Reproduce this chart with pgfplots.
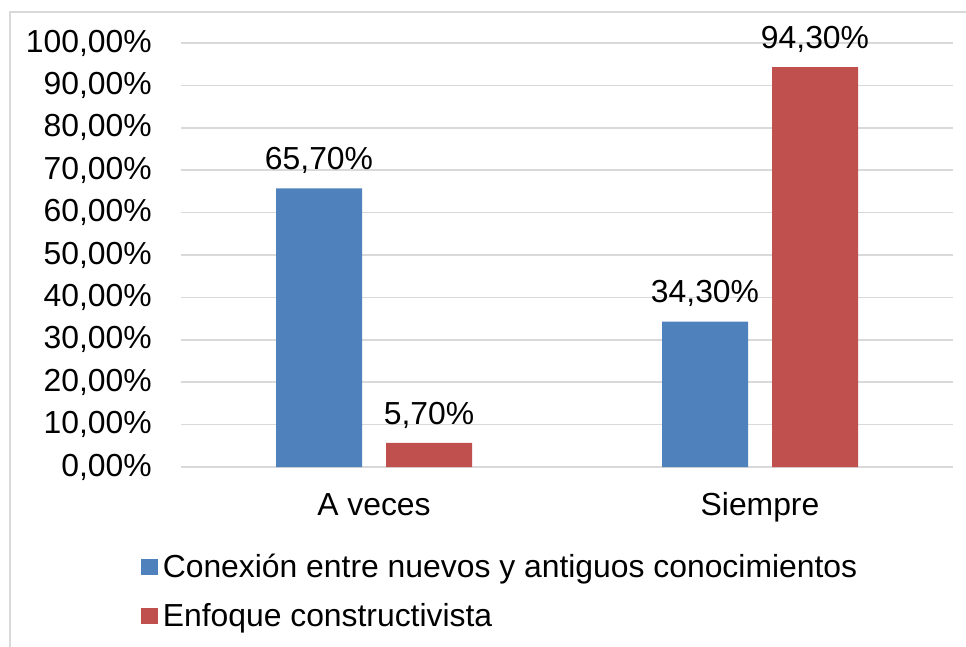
\documentclass[border=0pt]{standalone}
\usepackage{pgfplots}
\pgfplotsset{compat=1.18}
\usepackage{fontspec}
\setmainfont{Liberation Sans}
\definecolor{cblue}{HTML}{4F81BD}
\definecolor{cred}{HTML}{C0504D}
\definecolor{cgrid}{HTML}{D9D9D9}
\newcommand{\bigf}{\fontsize{23.9}{28}\selectfont}
\begin{document}
\begin{tikzpicture}
\useasboundingbox (0pt,0pt) rectangle (724.5pt,484.5pt);
\draw[cgrid,line width=1.2pt] (7.5pt,475.5pt) rectangle (750pt,-15pt);
\begin{axis}[
  at={(135.75pt,134.25pt)}, anchor=south west,
  scale only axis, width=579pt, height=318pt,
  ymin=0, ymax=100, xmin=-0.5, xmax=1.5,
  xtick={0,1}, xticklabels={A veces,Siempre},
  ytick={0,10,...,100},
  yticklabels={{0,00\%},{10,00\%},{20,00\%},{30,00\%},{40,00\%},{50,00\%},{60,00\%},{70,00\%},{80,00\%},{90,00\%},{100,00\%}},
  ymajorgrids, major grid style={cgrid,line width=1.2pt},
  axis line style={draw=none},
  major tick length=0pt,
  tick label style={font=\bigf},
  yticklabel style={xshift=-18.4pt},
  xticklabel style={anchor=base, yshift=-36pt},
  /pgf/number format/assume math mode=true,
  ybar, bar width=64.5pt,
  nodes near coords={\pgfmathprintnumber[fixed,fixed zerofill,precision=2,use comma]{\pgfplotspointmeta}\%},
  every node near coord/.append style={font=\bigf,text=black, anchor=base, yshift=14pt},
  legend style={draw=none, at={(-0.052,-0.198)}, anchor=north west, font=\bigf, legend cell align=left, row sep=14.25pt, inner sep=0pt},
  legend image code/.code={\fill[#1] (0pt,-6pt) rectangle (12.75pt,6pt); \path (14.25pt,0pt);},
]
\addplot[fill=cblue, draw=none, bar shift=-41.25pt] coordinates {(0,65.7) (1,34.3)};
\addplot[fill=cred, draw=none, bar shift=41.25pt] coordinates {(0,5.7) (1,94.3)};
\legend{Conexión entre nuevos y antiguos conocimientos, Enfoque constructivista}
\end{axis}
\end{tikzpicture}
\end{document}
